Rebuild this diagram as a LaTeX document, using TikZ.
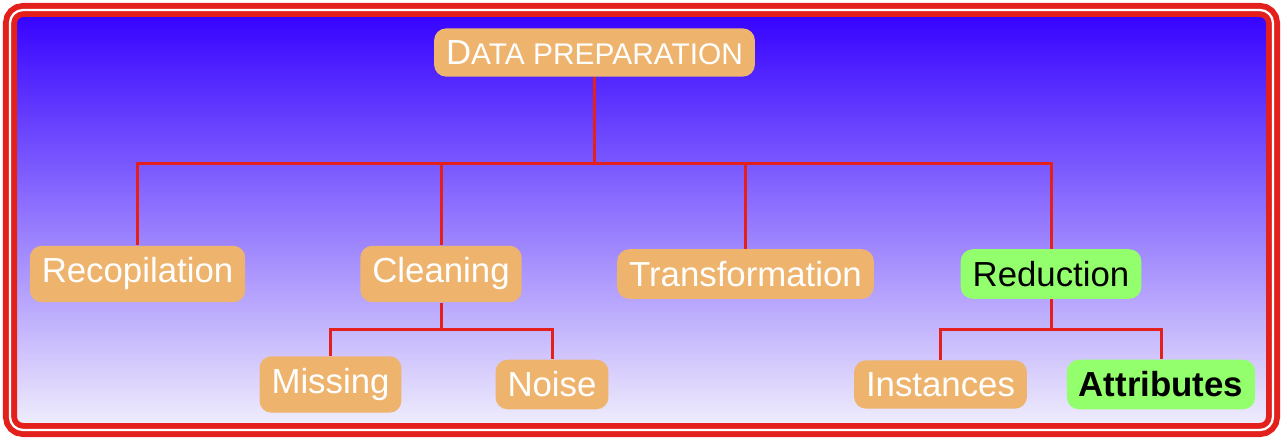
\documentclass[tikz,border=0pt]{standalone}
\usepackage{fontspec}
\setmainfont{Liberation Sans}
\usetikzlibrary{positioning, calc}
\definecolor{framered}{RGB}{228,32,28}
\definecolor{skyblue}{RGB}{52,0,255}
\definecolor{midblue}{RGB}{126,124,248}
\definecolor{paleblue}{RGB}{242,240,252}
\definecolor{boxorange}{RGB}{238,180,110}
\definecolor{boxgreen}{RGB}{148,255,108}

\begin{document}
\begin{tikzpicture}[
    box/.style={rounded corners=0.24cm, fill=boxorange, text=white, inner sep=0.24cm, font=\fontsize{19.8}{23}\selectfont},
    chosen/.style={box, fill=boxgreen, text=black},
    link/.style={draw=framered, line width=0.06cm}
]
    % Fix the page size
    \useasboundingbox (0,0) rectangle (25.66,8.8);

    % Draw shaded background and double frame
    \shade[top color=skyblue, middle color=midblue, bottom color=paleblue, rounded corners=0.26cm] (0.2,0.2) rectangle (25.46,8.6);
    \draw[framered, line width=0.117cm, double=white, double distance=0.046cm, rounded corners=0.26cm] (0.2,0.2) rectangle (25.46,8.6);

    % Draw the stages
    \node[box] (prep) at (11.89,7.75) {D{\fontsize{17}{20}\selectfont ATA PREPARATION}};
    \node[box] (recop) at (2.75,3.32) {Recopilation};
    \node[box] (clean) at (8.82,3.32) {Cleaning};
    \node[box] (trans) at (14.91,3.32) {Transformation};
    \node[chosen] (reduc) at (21.02,3.32) {Reduction};

    % Draw the sub-stages
    \node[box] (miss) at (6.61,1.11) {Missing};
    \node[box] (noise) at (11.04,1.11) {Noise};
    \node[box] (inst) at (18.81,1.11) {Instances};
    \node[chosen] (attr) at (23.22,1.11) {\textbf{Attributes}};

    % Draw the connectors
    \coordinate (upper) at (0,5.53);
    \coordinate (lower) at (0,2.22);
    \draw[link] (prep.south) -- (prep.south |- upper);
    \draw[link] (recop.north) -- (recop.north |- upper) -- (reduc.north |- upper) -- (reduc.north);
    \draw[link] (clean.north) -- (clean.north |- upper);
    \draw[link] (trans.north) -- (trans.north |- upper);
    \draw[link] (clean.south) -- (clean.south |- lower);
    \draw[link] (miss.north) -- (miss.north |- lower) -- (noise.north |- lower) -- (noise.north);
    \draw[link] (reduc.south) -- (reduc.south |- lower);
    \draw[link] (inst.north) -- (inst.north |- lower) -- (attr.north |- lower) -- (attr.north);
\end{tikzpicture}
\end{document}
